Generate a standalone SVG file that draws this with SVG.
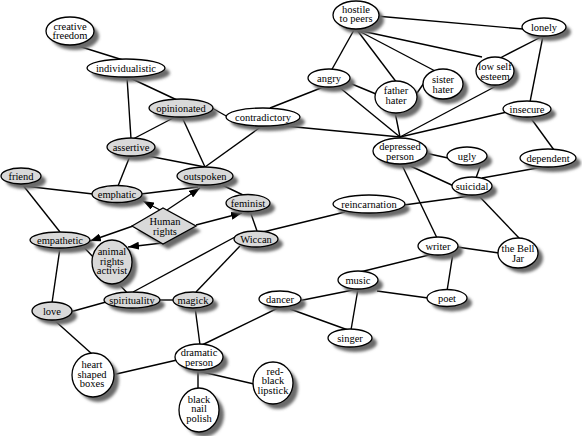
<svg xmlns="http://www.w3.org/2000/svg" width="582" height="436" viewBox="0 0 582 436">
<defs>
<style>
.e{stroke:#000;stroke-width:1.4;fill:none}
.w{fill:#fff;stroke:#000;stroke-width:1.3}
.g{fill:#d9d9d9;stroke:#000;stroke-width:1.3}
.s{fill:#6a6a6a;filter:url(#b)}
text{font-family:"Liberation Serif","Times New Roman",serif;font-size:10.5px;text-anchor:middle;fill:#000}
</style>
<filter id="b" x="-30%" y="-30%" width="160%" height="160%"><feGaussianBlur stdDeviation="1.4"/></filter>
<marker id="a" markerUnits="userSpaceOnUse" markerWidth="12" markerHeight="8" refX="11" refY="4" orient="auto"><path d="M0,0 L11,4 L0,8 z" fill="#000"/></marker>
</defs>
<rect width="582" height="436" fill="#fff"/>
<g id="connectors">
<line class="e" x1="75" y1="45" x2="123" y2="60"/>
<line class="e" x1="127" y1="77" x2="131" y2="139"/>
<line class="e" x1="128" y1="77" x2="177" y2="100"/>
<line class="e" x1="212" y1="108" x2="228" y2="117"/>
<line class="e" x1="177" y1="116" x2="133" y2="139"/>
<line class="e" x1="182" y1="117" x2="205" y2="167"/>
<line class="e" x1="270" y1="108" x2="326" y2="86"/>
<line class="e" x1="285" y1="126" x2="400" y2="137"/>
<line class="e" x1="262" y1="126" x2="205" y2="167"/>
<line class="e" x1="143" y1="155" x2="205" y2="167"/>
<line class="e" x1="130" y1="156" x2="118" y2="186"/>
<line class="e" x1="24" y1="186" x2="93" y2="194"/>
<line class="e" x1="22" y1="184" x2="60" y2="232"/>
<line class="e" x1="141" y1="194" x2="198" y2="187"/>
<line class="e" x1="220" y1="184" x2="243" y2="195"/>
<line class="e" x1="250" y1="211" x2="257" y2="231"/>
<line class="e" x1="263" y1="232" x2="345" y2="212"/>
<line class="e" x1="235" y1="237" x2="133" y2="292"/>
<line class="e" x1="240" y1="246" x2="196" y2="292"/>
<line class="e" x1="77" y1="240" x2="133" y2="299"/>
<line class="e" x1="60" y1="248" x2="52" y2="303"/>
<line class="e" x1="70" y1="312" x2="106" y2="302"/>
<line class="e" x1="160" y1="300" x2="174" y2="300"/>
<line class="e" x1="195" y1="307" x2="200" y2="345"/>
<line class="e" x1="53" y1="319" x2="92" y2="354"/>
<line class="e" x1="112" y1="375" x2="177" y2="360"/>
<line class="e" x1="280" y1="307" x2="202" y2="345"/>
<line class="e" x1="198" y1="370" x2="198" y2="389"/>
<line class="e" x1="198" y1="371" x2="254" y2="384"/>
<line class="e" x1="298" y1="301" x2="358" y2="289"/>
<line class="e" x1="290" y1="309" x2="348" y2="330"/>
<line class="e" x1="358" y1="289" x2="351" y2="330"/>
<line class="e" x1="377" y1="291" x2="428" y2="298"/>
<line class="e" x1="360" y1="272" x2="433" y2="254"/>
<line class="e" x1="453" y1="253" x2="447" y2="291"/>
<line class="e" x1="457" y1="247" x2="499" y2="253"/>
<line class="e" x1="437" y1="238" x2="401" y2="163"/>
<line class="e" x1="406" y1="164" x2="456" y2="187"/>
<line class="e" x1="425" y1="153" x2="448" y2="158"/>
<line class="e" x1="481" y1="164" x2="476" y2="178"/>
<line class="e" x1="482" y1="178" x2="543" y2="167"/>
<line class="e" x1="478" y1="195" x2="520" y2="239"/>
<line class="e" x1="404" y1="205" x2="470" y2="196"/>
<line class="e" x1="376" y1="16" x2="523" y2="29"/>
<line class="e" x1="357" y1="30" x2="482" y2="57"/>
<line class="e" x1="357" y1="30" x2="437" y2="72"/>
<line class="e" x1="357" y1="30" x2="397" y2="83"/>
<line class="e" x1="354" y1="30" x2="331" y2="71"/>
<line class="e" x1="543" y1="36" x2="500" y2="58"/>
<line class="e" x1="543" y1="36" x2="530" y2="102"/>
<line class="e" x1="347" y1="82" x2="376" y2="94"/>
<line class="e" x1="339" y1="87" x2="400" y2="137"/>
<line class="e" x1="415" y1="96" x2="426" y2="80"/>
<line class="e" x1="395" y1="112" x2="400" y2="137"/>
<line class="e" x1="500" y1="84" x2="400" y2="137"/>
<line class="e" x1="507" y1="112" x2="400" y2="137"/>
<line class="e" x1="530" y1="117" x2="554" y2="150"/>
<line class="e" x1="160" y1="210" x2="143" y2="201" marker-end="url(#a)"/>
<line class="e" x1="167" y1="210" x2="200" y2="188" marker-end="url(#a)"/>
<line class="e" x1="196" y1="225" x2="242" y2="213" marker-end="url(#a)"/>
<line class="e" x1="133" y1="226" x2="90" y2="241" marker-end="url(#a)"/>
<line class="e" x1="162" y1="243" x2="128" y2="247" marker-end="url(#a)"/>
</g>
<g id="creative-freedom"><ellipse class="s" cx="75" cy="36" rx="24" ry="14"/><ellipse class="w" cx="70" cy="31" rx="24" ry="14"/><text x="70" y="29.5">creative</text><text x="70" y="39">freedom</text></g>
<g id="individualistic"><ellipse class="s" cx="131" cy="73" rx="39" ry="9"/><ellipse class="w" cx="126" cy="68" rx="39" ry="9"/><text x="126" y="71.5">individualistic</text></g>
<g id="opinionated"><ellipse class="s" cx="186" cy="113" rx="32" ry="9"/><ellipse class="g" cx="181" cy="108" rx="32" ry="9"/><text x="181" y="111.5">opinionated</text></g>
<g id="contradictory"><ellipse class="s" cx="268" cy="122" rx="37" ry="9"/><ellipse class="w" cx="263" cy="117" rx="37" ry="9"/><text x="263" y="120.5">contradictory</text></g>
<g id="assertive"><ellipse class="s" cx="136" cy="152" rx="24" ry="9"/><ellipse class="g" cx="131" cy="147" rx="24" ry="9"/><text x="131" y="150.5">assertive</text></g>
<g id="friend"><ellipse class="s" cx="26" cy="181" rx="20" ry="8"/><ellipse class="g" cx="21" cy="176" rx="20" ry="8"/><text x="21" y="179.5">friend</text></g>
<g id="emphatic"><ellipse class="s" cx="122" cy="199" rx="25" ry="8.5"/><ellipse class="g" cx="117" cy="194" rx="25" ry="8.5"/><text x="117" y="197.5">emphatic</text></g>
<g id="outspoken"><ellipse class="s" cx="210" cy="181" rx="28" ry="9"/><ellipse class="g" cx="205" cy="176" rx="28" ry="9"/><text x="205" y="179.5">outspoken</text></g>
<g id="feminist"><ellipse class="s" cx="253" cy="208" rx="22" ry="8.5"/><ellipse class="g" cx="248" cy="203" rx="22" ry="8.5"/><text x="248" y="206.5">feminist</text></g>
<g id="human-rights"><polygon class="s" points="137,231 168,213 201,231 168,249"/><polygon class="g" points="132,226 163,208 196,226 163,244"/><text x="165" y="225">Human</text><text x="165" y="234.5">rights</text></g>
<g id="empathetic"><ellipse class="s" cx="65" cy="245" rx="30" ry="8"/><ellipse class="g" cx="60" cy="240" rx="30" ry="8"/><text x="60" y="243.5">empathetic</text></g>
<g id="animal-rights-activist"><ellipse class="s" cx="117" cy="267" rx="20" ry="22"/><ellipse class="g" cx="112" cy="262" rx="20" ry="22"/><text x="112" y="255">animal</text><text x="112" y="264.5">rights</text><text x="112" y="274">activist</text></g>
<g id="wiccan"><ellipse class="s" cx="261" cy="244" rx="22" ry="8"/><ellipse class="g" cx="256" cy="239" rx="22" ry="8"/><text x="256" y="242.5">Wiccan</text></g>
<g id="reincarnation"><ellipse class="s" cx="374" cy="209" rx="36" ry="9"/><ellipse class="w" cx="369" cy="204" rx="36" ry="9"/><text x="369" y="207.5">reincarnation</text></g>
<g id="spirituality"><ellipse class="s" cx="137" cy="305" rx="28" ry="8"/><ellipse class="g" cx="132" cy="300" rx="28" ry="8"/><text x="132" y="303.5">spirituality</text></g>
<g id="magick"><ellipse class="s" cx="198" cy="305" rx="20" ry="8"/><ellipse class="g" cx="193" cy="300" rx="20" ry="8"/><text x="193" y="303.5">magick</text></g>
<g id="love"><ellipse class="s" cx="57" cy="316" rx="20" ry="9"/><ellipse class="g" cx="52" cy="311" rx="20" ry="9"/><text x="52" y="314.5">love</text></g>
<g id="dancer"><ellipse class="s" cx="285" cy="304" rx="21" ry="8"/><ellipse class="w" cx="280" cy="299" rx="21" ry="8"/><text x="280" y="302.5">dancer</text></g>
<g id="heart-shaped-boxes"><ellipse class="s" cx="98" cy="380" rx="21" ry="22"/><ellipse class="w" cx="93" cy="375" rx="21" ry="22"/><text x="92" y="368">heart</text><text x="92" y="377.5">shaped</text><text x="92" y="387">boxes</text></g>
<g id="dramatic-person"><ellipse class="s" cx="204" cy="362" rx="24" ry="13"/><ellipse class="w" cx="199" cy="357" rx="24" ry="13"/><text x="199" y="356">dramatic</text><text x="199" y="365.5">person</text></g>
<g id="black-nail-polish"><ellipse class="s" cx="204" cy="415" rx="20" ry="22"/><ellipse class="w" cx="199" cy="410" rx="20" ry="22"/><text x="199" y="402.5">black</text><text x="199" y="412">nail</text><text x="199" y="421.5">polish</text></g>
<g id="red-black-lipstick"><ellipse class="s" cx="278" cy="388" rx="20" ry="21"/><ellipse class="w" cx="273" cy="383" rx="20" ry="21"/><text x="275" y="374.5">red-</text><text x="273" y="384">black</text><text x="273" y="393.5">lipstick</text></g>
<g id="singer"><ellipse class="s" cx="355" cy="343" rx="22" ry="9"/><ellipse class="w" cx="350" cy="338" rx="22" ry="9"/><text x="350" y="341.5">singer</text></g>
<g id="poet"><ellipse class="s" cx="452" cy="303" rx="20" ry="8.5"/><ellipse class="w" cx="447" cy="298" rx="20" ry="8.5"/><text x="447" y="301.5">poet</text></g>
<g id="music"><ellipse class="s" cx="363" cy="285" rx="20" ry="9"/><ellipse class="w" cx="358" cy="280" rx="20" ry="9"/><text x="358" y="283.5">music</text></g>
<g id="writer"><ellipse class="s" cx="443" cy="251" rx="20" ry="9"/><ellipse class="w" cx="438" cy="246" rx="20" ry="9"/><text x="438" y="249.5">writer</text></g>
<g id="the-bell-jar"><ellipse class="s" cx="523" cy="258" rx="20" ry="15"/><ellipse class="w" cx="518" cy="253" rx="20" ry="15"/><text x="518" y="252">the Bell</text><text x="518" y="261.5">Jar</text></g>
<g id="suicidal"><ellipse class="s" cx="477" cy="191" rx="20" ry="9"/><ellipse class="w" cx="472" cy="186" rx="20" ry="9"/><text x="472" y="189.5">suicidal</text></g>
<g id="ugly"><ellipse class="s" cx="472" cy="161" rx="20" ry="9"/><ellipse class="w" cx="467" cy="156" rx="20" ry="9"/><text x="467" y="159.5">ugly</text></g>
<g id="dependent"><ellipse class="s" cx="553" cy="163" rx="28" ry="9"/><ellipse class="w" cx="548" cy="158" rx="28" ry="9"/><text x="548" y="161.5">dependent</text></g>
<g id="depressed-person"><ellipse class="s" cx="405" cy="156" rx="27" ry="13"/><ellipse class="w" cx="400" cy="151" rx="27" ry="13"/><text x="400" y="150">depressed</text><text x="400" y="159.5">person</text></g>
<g id="insecure"><ellipse class="s" cx="532" cy="114" rx="24" ry="8"/><ellipse class="w" cx="527" cy="109" rx="24" ry="8"/><text x="527" y="112.5">insecure</text></g>
<g id="lonely"><ellipse class="s" cx="549" cy="32" rx="22" ry="9"/><ellipse class="w" cx="544" cy="27" rx="22" ry="9"/><text x="544" y="30.5">lonely</text></g>
<g id="low-self-esteem"><ellipse class="s" cx="500" cy="76" rx="19" ry="14"/><ellipse class="w" cx="495" cy="71" rx="19" ry="14"/><text x="495" y="70" font-size="10">low self</text><text x="495" y="80" font-size="10">esteem</text></g>
<g id="sister-hater"><ellipse class="s" cx="448" cy="89" rx="20" ry="15"/><ellipse class="w" cx="443" cy="84" rx="20" ry="15"/><text x="443" y="83">sister</text><text x="443" y="92.5">hater</text></g>
<g id="father-hater"><ellipse class="s" cx="401" cy="102" rx="21" ry="16"/><ellipse class="w" cx="396" cy="97" rx="21" ry="16"/><text x="396" y="94">father</text><text x="396" y="103.5">hater</text></g>
<g id="angry"><ellipse class="s" cx="334" cy="83" rx="21" ry="9"/><ellipse class="w" cx="329" cy="78" rx="21" ry="9"/><text x="329" y="81.5">angry</text></g>
<g id="hostile-to-peers"><ellipse class="s" cx="361" cy="20" rx="23" ry="14"/><ellipse class="w" cx="356" cy="15" rx="23" ry="14"/><text x="356" y="12.5">hostile</text><text x="356" y="22">to peers</text></g>
</svg>
